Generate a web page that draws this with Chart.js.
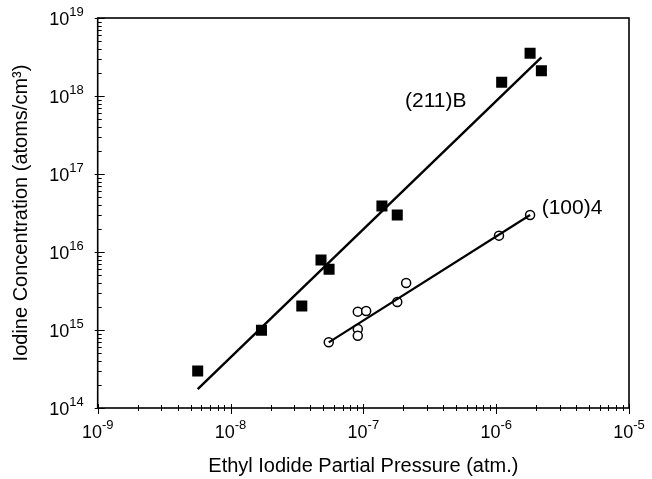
<!DOCTYPE html>
<html>
<head>
<meta charset="utf-8">
<script src="https://cdn.jsdelivr.net/npm/chart.js@4/dist/chart.umd.min.js"></script>
<style>
  html, body { margin: 0; padding: 0; background: #fff; }
  #wrap { width: 652px; height: 479px; }
</style>
</head>
<body>
<div id="wrap"><canvas id="chart" width="652" height="479"></canvas></div>
<script>
// (211)B data, filled squares
const pressure211 = [5.66e-9, 1.71e-8, 3.44e-8, 4.8e-8, 5.52e-8, 1.38e-7, 1.8e-7, 1.1e-6, 1.8e-6, 2.19e-6];
const conc211 = [2.98e14, 9.9e14, 2.03e15, 7.9e15, 6.0e15, 3.89e16, 2.98e16, 1.5e18, 3.53e18, 2.11e18];
// (100)4 data, open circles
const pressure100 = [5.49e-8, 9.08e-8, 9.08e-8, 9.08e-8, 1.05e-7, 1.8e-7, 2.1e-7, 1.05e-6, 1.8e-6];
const conc100 = [6.95e14, 1.72e15, 1.03e15, 8.45e14, 1.75e15, 2.29e15, 4.0e15, 1.62e16, 2.98e16];
// fitted lines (end points)
const fit211X = [5.66e-9, 2.19e-6];
const fit211Y = [1.75e14, 3.13e18];
const fit100X = [5.49e-8, 1.8e-6];
const fit100Y = [6.95e14, 2.98e16];
// axis tick exponents
const xExponents = [-9, -8, -7, -6, -5];
const yExponents = [14, 15, 16, 17, 18, 19];
// curve labels
const curveLabels = ["(211)B", "(100)4"];
const labelX = [2.06e-7, 2.2e-6];
const labelY = [8.6e17, 3.66e16];

const FONT = "'Liberation Sans', Arial, sans-serif";

function pts(xs, ys) {
  return xs.map((x, i) => ({ x: x, y: ys[i] }));
}

// tick marks, superscript tick labels, frame and curve labels
const frame = {
  id: "frame",
  afterDraw(chart) {
    const ctx = chart.ctx;
    const a = chart.chartArea;
    const xs = chart.scales.x;
    const ys = chart.scales.y;
    ctx.save();
    ctx.strokeStyle = "#000";
    ctx.lineWidth = 1.6;
    ctx.strokeRect(a.left, a.top, a.right - a.left, a.bottom - a.top);

    ctx.lineWidth = 1;
    ctx.beginPath();
    for (let e = yExponents[0]; e < yExponents[yExponents.length - 1]; e++) {
      for (let m = 2; m <= 9; m++) {
        const p = Math.round(ys.getPixelForValue(m * Math.pow(10, e))) + 0.5;
        ctx.moveTo(a.left, p);
        ctx.lineTo(a.left + 4, p);
      }
    }
    yExponents.forEach((e) => {
      const p = Math.round(ys.getPixelForValue(Math.pow(10, e))) + 0.5;
      ctx.moveTo(a.left - 3, p);
      ctx.lineTo(a.left + 7, p);
    });
    for (let e = xExponents[0]; e < xExponents[xExponents.length - 1]; e++) {
      for (let m = 2; m <= 9; m++) {
        const p = Math.round(xs.getPixelForValue(m * Math.pow(10, e))) + 0.5;
        ctx.moveTo(p, a.bottom + 3);
        ctx.lineTo(p, a.bottom - 3);
      }
    }
    xExponents.forEach((e) => {
      const p = Math.round(xs.getPixelForValue(Math.pow(10, e))) + 0.5;
      ctx.moveTo(p, a.bottom + 6);
      ctx.lineTo(p, a.bottom - 4);
    });
    ctx.stroke();

    ctx.fillStyle = "#000";
    ctx.textBaseline = "alphabetic";
    const baseFont = "18px " + FONT;
    const expFont = "13px " + FONT;

    yExponents.forEach((e) => {
      const p = ys.getPixelForValue(Math.pow(10, e));
      const right = a.left - 14;
      ctx.font = expFont;
      const ew = ctx.measureText(String(e)).width;
      ctx.textAlign = "left";
      ctx.fillText(String(e), right - ew, p - 2);
      ctx.font = baseFont;
      ctx.textAlign = "right";
      ctx.fillText("10", right - ew, p + 7);
    });

    xExponents.forEach((e) => {
      const p = xs.getPixelForValue(Math.pow(10, e));
      ctx.font = baseFont;
      const bw = ctx.measureText("10").width;
      ctx.font = expFont;
      const ew = ctx.measureText(String(e)).width;
      const left = p - (bw + ew) / 2;
      ctx.textAlign = "left";
      ctx.fillText(String(e), left + bw, a.bottom + 21);
      ctx.font = baseFont;
      ctx.fillText("10", left, a.bottom + 30);
    });

    ctx.font = "21px " + FONT;
    ctx.textAlign = "left";
    ctx.textBaseline = "middle";
    curveLabels.forEach((t, i) => {
      ctx.fillText(t, xs.getPixelForValue(labelX[i]), ys.getPixelForValue(labelY[i]));
    });
    ctx.restore();
  }
};

new Chart(document.getElementById("chart"), {
  type: "scatter",
  data: {
    datasets: [
      {
        label: "fit (211)B",
        type: "line",
        data: pts(fit211X, fit211Y),
        borderColor: "#000",
        borderWidth: 2.4,
        pointRadius: 0,
        fill: false
      },
      {
        label: "fit (100)4",
        type: "line",
        data: pts(fit100X, fit100Y),
        borderColor: "#000",
        borderWidth: 2.2,
        pointRadius: 0,
        fill: false
      },
      {
        label: "(211)B",
        data: pts(pressure211, conc211),
        pointStyle: "rect",
        pointRadius: 7.8,
        backgroundColor: "#000",
        borderColor: "#000",
        borderWidth: 0
      },
      {
        label: "(100)4",
        data: pts(pressure100, conc100),
        pointStyle: "circle",
        pointRadius: 4.5,
        backgroundColor: "#fff",
        borderColor: "#000",
        borderWidth: 1.5
      }
    ]
  },
  options: {
    responsive: false,
    animation: false,
    layout: { padding: { top: 18, right: 23, left: 0, bottom: 0 } },
    plugins: { legend: { display: false }, tooltip: { enabled: false } },
    scales: {
      x: {
        type: "logarithmic",
        min: 1e-9,
        max: 1e-5,
        grid: { display: false },
        border: { display: false },
        ticks: { display: false },
        afterFit: (s) => { s.height = 71; },
        title: {
          display: true,
          text: "Ethyl Iodide Partial Pressure (atm.)",
          color: "#000",
          font: { family: FONT, size: 20 },
          padding: { top: 0, bottom: 1 }
        }
      },
      y: {
        type: "logarithmic",
        min: 1e14,
        max: 1e19,
        grid: { display: false },
        border: { display: false },
        ticks: { display: false },
        afterFit: (s) => { s.width = 97.7; },
        title: {
          display: true,
          text: "Iodine Concentration (atoms/cm³)",
          color: "#000",
          font: { family: FONT, size: 20 },
          padding: { top: 9, bottom: 0 }
        }
      }
    }
  },
  plugins: [frame]
});
</script>
</body>
</html>
